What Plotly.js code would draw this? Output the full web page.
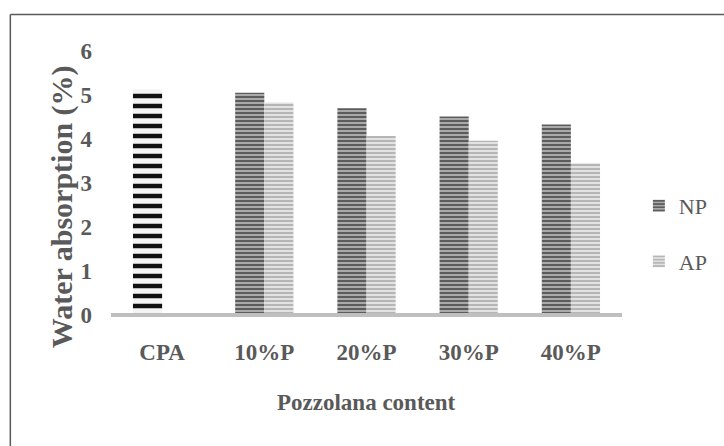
<!DOCTYPE html>
<html>
<head>
<meta charset="utf-8">
<script src="https://cdn.plot.ly/plotly-3.0.1.min.js"></script>
<style>
  html, body { margin: 0; padding: 0; background: #ffffff; }
  #chart { width: 724px; height: 446px; }
</style>
</head>
<body>
<div id="chart"></div>
<script>
// ---- data ----
const categories = ['CPA', '10%P', '20%P', '30%P', '40%P'];
const npValues = [5.13, 5.05, 4.70, 4.51, 4.33];
const apValues = [null, 4.83, 4.07, 3.96, 3.45];
const seriesNames = ['NP', 'AP'];
const yTickValues = [0, 1, 2, 3, 4, 5, 6];
const xTitle = 'Pozzolana content';
const yTitle = 'Water absorption (%)';

// ---- styles ----
const textGrey = '#595959';
const serif = 'Liberation Serif';

// The CPA point of the NP series is formatted differently (black/white stripes):
// draw it as its own trace sharing the NP slot.
const cpaX = categories.slice(0, 1);
const cpaY = npValues.slice(0, 1);
const npY = npValues.map((v, i) => (i === 0 ? null : v));

const traces = [
  {
    type: 'bar', name: 'CPA', x: cpaX, y: cpaY, offsetgroup: 'np', showlegend: false,
    marker: {
      color: '#ffffff', line: { width: 0 },
      pattern: { shape: '-', fgcolor: '#111111', bgcolor: '#f4f4f4', size: 10, solidity: 0.45, fillmode: 'replace' }
    },
    hoverinfo: 'x+y'
  },
  {
    type: 'bar', name: seriesNames[0], x: categories, y: npY, offsetgroup: 'np',
    legendgroup: 'np',
    marker: {
      color: '#7f7f7f', line: { width: 0 },
      pattern: { shape: '-', fgcolor: '#5c5c5c', bgcolor: '#a9a9a9', size: 4, solidity: 0.5, fillmode: 'replace' }
    },
    hoverinfo: 'x+y'
  },
  {
    type: 'bar', name: seriesNames[1], x: categories, y: apValues, offsetgroup: 'ap',
    legendgroup: 'ap',
    marker: {
      color: '#cfcfcf', line: { width: 0 },
      pattern: { shape: '-', fgcolor: '#b5b5b5', bgcolor: '#e2e2e2', size: 4, solidity: 0.5, fillmode: 'replace' }
    },
    hoverinfo: 'x+y'
  }
];

const layout = {
  width: 724, height: 446,
  margin: { l: 111, r: 101, t: 51, b: 131, pad: 0 },
  paper_bgcolor: '#ffffff', plot_bgcolor: '#ffffff',
  barmode: 'group', bargap: 0.43, bargroupgap: 0,
  font: { family: serif, color: textGrey, size: 23 },
  showlegend: true,
  legend: {
    x: 1.031, xanchor: 'left', y: 0.493, yanchor: 'top',
    font: { family: serif, size: 22, color: textGrey },
    traceorder: 'grouped', tracegroupgap: 24,
    itemwidth: 30, bgcolor: 'rgba(0,0,0,0)'
  },
  xaxis: {
    type: 'category', categoryorder: 'array', categoryarray: categories,
    showline: false, showgrid: false, zeroline: false, ticks: '',
    tickfont: { family: serif, size: 23, color: textGrey, weight: 'bold' },
    ticklabelstandoff: 21
  },
  yaxis: {
    range: [0, 6], tickvals: yTickValues, showline: false, showgrid: false, zeroline: false, ticks: '',
    tickfont: { family: serif, size: 23, color: textGrey, weight: 'bold' },
    ticklabelstandoff: 18
  },
  shapes: [
    // horizontal category axis line (at the value-axis zero, i.e. plot bottom)
    { type: 'line', xref: 'paper', yref: 'paper', x0: 0, x1: 1, y0: 0, y1: 0, layer: 'above',
      line: { color: '#bfbfbf', width: 4 } },
    // chart-area border (left + top, continues past the picture edges)
    { type: 'line', xref: 'paper', yref: 'paper', x0: -0.197, x1: -0.197, y0: 1.138, y1: -0.7,
      line: { color: '#5a5a5a', width: 1.5 } },
    { type: 'line', xref: 'paper', yref: 'paper', x0: -0.197, x1: 1.3, y0: 1.138, y1: 1.138,
      line: { color: '#5a5a5a', width: 1.5 } }
  ],
  annotations: [
    { text: yTitle, xref: 'paper', yref: 'paper', x: -0.097, y: 0.41, xanchor: 'center', yanchor: 'middle',
      textangle: -90, showarrow: false,
      font: { family: serif, size: 30, color: textGrey, weight: 'bold' } },
    { text: xTitle, xref: 'paper', yref: 'paper', x: 0.5, y: -0.333, xanchor: 'center', yanchor: 'middle',
      showarrow: false,
      font: { family: serif, size: 23, color: textGrey, weight: 'bold' } }
  ]
};

Plotly.newPlot('chart', traces, layout, { displayModeBar: false, staticPlot: true });
</script>
</body>
</html>
